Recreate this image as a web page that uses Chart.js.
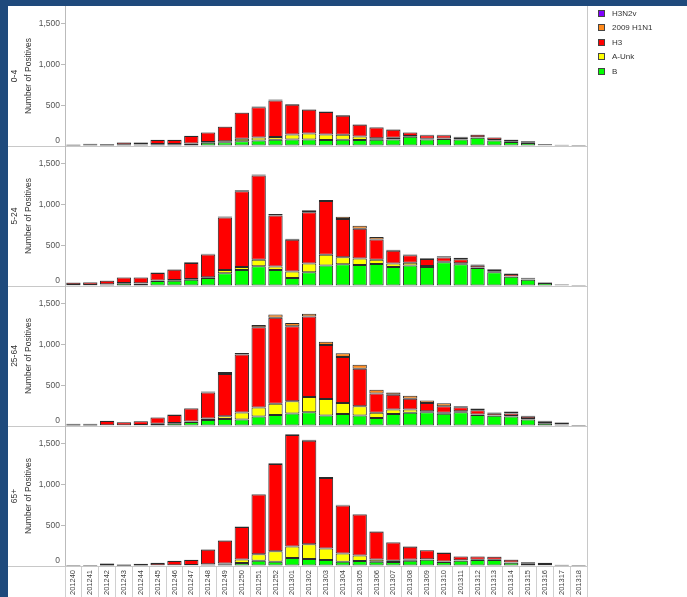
<!DOCTYPE html>
<html>
<head>
<meta charset="utf-8">
<title>Positive specimens by age group</title>
<script src="https://cdn.jsdelivr.net/npm/chart.js@4/dist/chart.umd.min.js"></script>
<style>
  html, body { margin: 0; padding: 0; background: #fff; }
  body { position: relative; width: 687px; height: 597px; overflow: hidden;
         font-family: "Liberation Sans", Arial, sans-serif; }
  #bandTop { position: absolute; left: 0; top: 0; width: 687px; height: 6px; background: #1f4a7c; }
  #bandLeft { position: absolute; left: 0; top: 0; width: 8px; height: 597px; background: #1f4a7c; }
  #frameRight { position: absolute; left: 587px; top: 6px; width: 1px; height: 591px; background: #c8c8c8; }
  canvas { position: absolute; left: 0; }
  #legend { position: absolute; left: 598px; top: 6px; margin: 0; padding: 0; list-style: none;
            will-change: transform; -webkit-font-smoothing: antialiased; }
  #legend li { height: 14.5px; display: flex; align-items: center; font-size: 8px; color: #333; }
  #legend .sw { width: 7px; height: 7px; box-sizing: border-box; border: 1px solid #444; margin-right: 7px; }
</style>
</head>
<body>
<div id="bandTop"></div>
<div id="bandLeft"></div>
<div id="frameRight"></div>
<ul id="legend"></ul>
<script>
// Surveillance weeks (YYYYWW)
const weeks = ['201240','201241','201242','201243','201244','201245','201246','201247','201248','201249',
  '201250','201251','201252','201301','201302','201303','201304','201305','201306','201307',
  '201308','201309','201310','201311','201312','201313','201314','201315','201316','201317','201318'];

const seriesNames = ['H3N2v', '2009 H1N1', 'H3', 'A-Unk', 'B'];

// Age 0-4
const h3n2v_0_4 = [2,3,1,0,0,0,0,0,0,0,0,0,0,0,0,0,0,0,0,0,0,0,0,0,0,0,0,0,0,0,0];
const h1n1_0_4  = [2,2,1,3,2,3,3,3,4,5,6,8,10,8,8,7,8,6,8,6,5,5,5,4,5,5,4,3,3,2,0];
const h3_0_4    = [10,16,17,27,26,47,48,91,118,178,318,372,448,366,291,276,235,143,130,99,42,43,41,23,30,30,24,19,11,7,2];
const aunk_0_4  = [2,2,2,3,3,4,5,6,8,12,32,36,36,60,73,69,61,45,20,20,10,8,6,5,6,5,4,3,2,2,0];
const b_0_4     = [4,5,4,12,14,22,20,25,40,45,57,69,76,81,81,73,76,73,76,81,113,81,85,81,101,69,49,36,8,5,1];

// Age 5-24
const h3n2v_5_24 = [2,1,0,0,0,0,0,0,0,0,0,0,0,0,0,0,0,0,0,0,0,0,0,0,0,0,0,0,0,0,0];
const h1n1_5_24  = [4,4,4,5,5,6,6,8,10,12,12,14,20,10,24,12,28,36,32,12,10,8,15,20,8,8,8,6,3,3,2];
const h3_5_24    = [28,31,45,66,69,93,127,196,278,643,931,1033,627,391,631,659,470,367,247,158,91,86,52,49,28,24,29,15,6,7,5];
const aunk_5_24  = [3,3,4,5,5,6,8,10,12,40,36,81,41,79,106,134,85,78,53,41,36,12,6,12,5,4,4,3,2,2,2];
const b_5_24     = [8,10,16,33,30,61,65,77,97,158,198,243,198,99,170,251,267,259,271,234,251,234,291,267,222,170,113,77,38,8,3];

// Age 25-64
const h3n2v_25_64 = [2,3,0,0,0,0,0,0,0,0,0,0,0,0,0,0,0,0,0,0,0,0,0,0,0,0,0,0,0,0,0];
const h1n1_25_64  = [4,5,4,4,4,5,6,7,12,24,20,28,40,38,36,40,45,49,45,28,36,28,36,12,20,8,24,12,8,6,3];
const h3_25_64    = [17,15,53,37,46,76,98,160,320,519,712,987,1059,921,988,664,565,460,238,182,133,104,81,51,53,28,30,27,21,20,5];
const aunk_25_64  = [2,2,3,3,3,4,5,6,20,36,85,109,138,151,186,201,138,113,65,57,41,10,12,10,8,5,6,5,3,3,1];
const b_25_64     = [3,3,5,5,8,24,33,49,73,85,81,118,134,154,170,130,146,130,97,146,162,170,150,170,134,125,118,81,33,16,3];

// Age 65+
const h3n2v_65 = [1,1,0,0,0,0,0,0,0,0,0,0,0,0,0,0,0,0,0,0,0,0,0,0,0,0,0,0,0,0,0];
const h1n1_65  = [2,1,2,2,3,3,3,4,5,6,6,8,10,10,10,10,8,8,6,6,5,5,5,4,4,4,4,3,3,2,1];
const h3_65    = [6,4,26,14,18,29,53,61,180,278,398,735,1070,1369,1273,867,590,502,341,225,158,110,106,47,40,37,34,19,25,9,2];
const aunk_65  = [1,1,2,2,3,3,3,4,6,12,45,78,130,142,182,142,102,69,29,15,15,6,5,5,4,4,3,3,2,1,1];
const b_65     = [2,1,3,2,4,5,6,8,15,20,36,65,52,99,85,73,52,61,52,49,65,77,50,65,73,73,40,24,10,4,1];

const ageGroups = ['0-4', '5-24', '25-64', '65+'];
const yTicks = [0, 500, 1000, 1500];

// ---- styling ----
const seriesColors = {
  'H3N2v': '#8000ff',
  '2009 H1N1': '#ff8a1c',
  'H3': '#ff0000',
  'A-Unk': '#ffff00',
  'B': '#00ff00'
};
const stackOrder = ['B', 'A-Unk', 'H3', '2009 H1N1', 'H3N2v']; // bottom to top

const panelSeries = [
  { 'H3N2v': h3n2v_0_4, '2009 H1N1': h1n1_0_4, 'H3': h3_0_4, 'A-Unk': aunk_0_4, 'B': b_0_4 },
  { 'H3N2v': h3n2v_5_24, '2009 H1N1': h1n1_5_24, 'H3': h3_5_24, 'A-Unk': aunk_5_24, 'B': b_5_24 },
  { 'H3N2v': h3n2v_25_64, '2009 H1N1': h1n1_25_64, 'H3': h3_25_64, 'A-Unk': aunk_25_64, 'B': b_25_64 },
  { 'H3N2v': h3n2v_65, '2009 H1N1': h1n1_65, 'H3': h3_65, 'A-Unk': aunk_65, 'B': b_65 }
];

const PANEL_TOPS = [6, 146, 286, 426];
const PANEL_H = 140;
const PAD = 12;
const PAGE_W = 687, PAGE_H = 597, PLOT_RIGHT = 587, AXIS_W = 65, XLABEL_H = 31;

Chart.defaults.font.family = '"Liberation Sans", Arial, sans-serif';

// horizontal rule under each panel, running out to the left band
const panelRule = {
  id: 'panelRule',
  afterDraw(chart) {
    const { ctx, chartArea } = chart;
    const y = Math.round(chartArea.bottom) + 0.5;
    ctx.save();
    ctx.strokeStyle = '#c8c8c8';
    ctx.lineWidth = 1;
    ctx.beginPath();
    ctx.moveTo(8, y);
    ctx.lineTo(chartArea.right, y);
    ctx.stroke();
    ctx.restore();
  }
};

ageGroups.forEach((age, p) => {
  const last = p === ageGroups.length - 1;
  const canvas = document.createElement('canvas');
  const top = PANEL_TOPS[p] - PAD;
  const height = last ? PAGE_H - top : PANEL_H + 2 * PAD;
  canvas.width = PAGE_W;
  canvas.height = height;
  canvas.style.top = top + 'px';
  canvas.style.width = PAGE_W + 'px';
  canvas.style.height = height + 'px';
  document.body.appendChild(canvas);

  const datasets = stackOrder.map(name => ({
    label: name,
    data: panelSeries[p][name],
    backgroundColor: seriesColors[name],
    borderColor: '#2a2a2a',
    borderWidth: 1,
    borderSkipped: false,
    barPercentage: 0.85,
    categoryPercentage: 1.0
  }));

  new Chart(canvas, {
    type: 'bar',
    data: { labels: weeks, datasets },
    options: {
      responsive: false,
      animation: false,
      devicePixelRatio: 1,
      layout: { padding: { top: PAD, bottom: last ? 0 : PAD, left: 0, right: PAGE_W - PLOT_RIGHT } },
      plugins: { legend: { display: false }, tooltip: { enabled: false } },
      scales: {
        x: {
          stacked: true,
          display: last,
          border: { display: false },
          grid: { offset: true, drawOnChartArea: false, tickLength: XLABEL_H, color: '#d0d0d0' },
          ticks: { minRotation: 90, maxRotation: 90, autoSkip: false, padding: -27,
                   font: { size: 7.5 }, color: '#444' },
          afterFit: s => { if (last) s.height = XLABEL_H; }
        },
        y: {
          stacked: true,
          min: 0,
          max: 1720,
          afterFit: s => { s.width = AXIS_W; },
          afterBuildTicks: s => { s.ticks = yTicks.map(v => ({ value: v })); },
          border: { color: '#bbb' },
          grid: { drawOnChartArea: false, tickLength: 4, color: '#bbb' },
          ticks: {
            padding: 1,
            font: { size: 8.5 },
            color: '#555',
            // zero label sits just above the baseline
            callback: v => v === 0 ? ['0', ''] : v.toLocaleString('en-US')
          },
          title: {
            display: true,
            text: [age, 'Number of Positives'],
            color: '#333',
            font: { size: 8.5, lineHeight: '14px' },
            padding: { top: 7.5, bottom: 0 }
          }
        }
      }
    },
    plugins: [panelRule]
  });
});

// legend, top to bottom
const legend = document.getElementById('legend');
seriesNames.forEach(name => {
  const li = document.createElement('li');
  const sw = document.createElement('span');
  sw.className = 'sw';
  sw.style.background = seriesColors[name];
  li.appendChild(sw);
  li.appendChild(document.createTextNode(name));
  legend.appendChild(li);
});
</script>
</body>
</html>
